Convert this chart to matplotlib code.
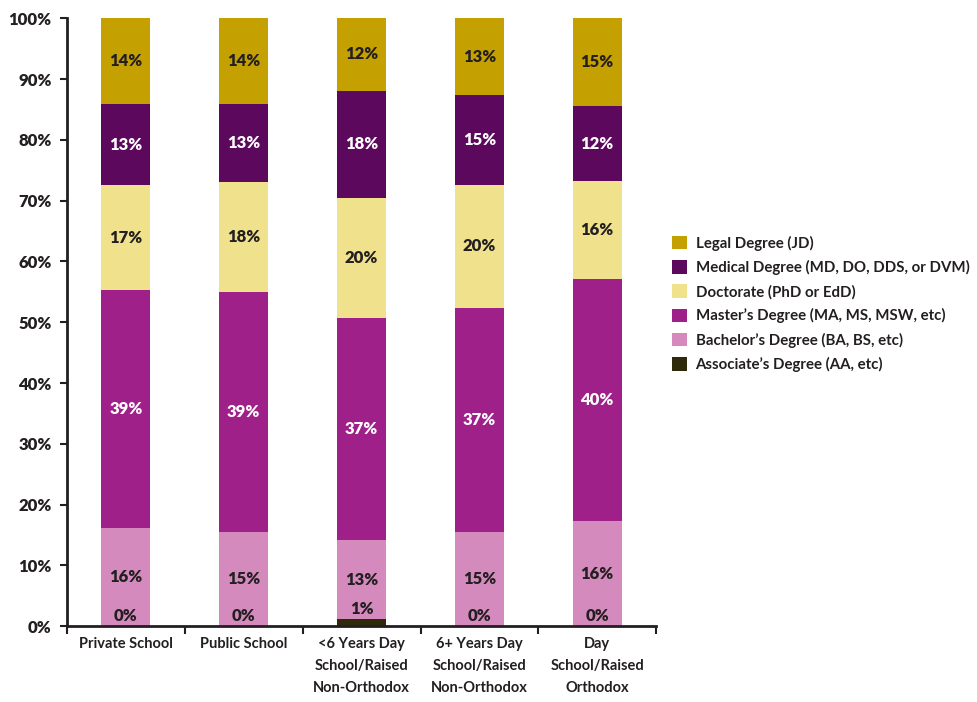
import matplotlib
matplotlib.use("Agg")
import matplotlib.pyplot as plt
from matplotlib.patches import Patch
import numpy as np

plt.rcParams['font.family'] = ['Lato', 'DejaVu Sans']

categories = ["Private School", "Public School",
              "<6 Years Day\nSchool/Raised\nNon-Orthodox",
              "6+ Years Day\nSchool/Raised\nNon-Orthodox",
              "Day\nSchool/Raised\nOrthodox"]

series_names = ["Associate\u2019s Degree (AA, etc)",
                "Bachelor\u2019s Degree (BA, BS, etc)",
                "Master\u2019s Degree (MA, MS, MSW, etc)",
                "Doctorate (PhD or EdD)",
                "Medical Degree (MD, DO, DDS, or DVM)",
                "Legal Degree (JD)"]

associate = [0.0, 0.0, 1.1, 0.0, 0.0]
bachelor = [16.2, 15.5, 13.0, 15.5, 17.3]
master = [39.1, 39.4, 36.6, 36.9, 39.8]
doctorate = [17.2, 18.1, 19.8, 20.2, 16.1]
medical = [13.4, 12.9, 17.6, 14.8, 12.3]
legal = [14.1, 14.1, 11.9, 12.6, 14.5]

label_associate = ["0%", "0%", "1%", "0%", "0%"]
label_bachelor = ["16%", "15%", "13%", "15%", "16%"]
label_master = ["39%", "39%", "37%", "37%", "40%"]
label_doctorate = ["17%", "18%", "20%", "20%", "16%"]
label_medical = ["13%", "13%", "18%", "15%", "12%"]
label_legal = ["14%", "14%", "12%", "13%", "15%"]

yticks = [0, 10, 20, 30, 40, 50, 60, 70, 80, 90, 100]

colors = ["#2E2A0A", "#D48ABC", "#A0208A", "#F0E28C", "#5C085C", "#C4A000"]
text_colors = ["#231F20", "#231F20", "white", "#231F20", "white", "#231F20"]

series = [associate, bachelor, master, doctorate, medical, legal]
labels = [label_associate, label_bachelor, label_master, label_doctorate,
          label_medical, label_legal]

fig = plt.figure(figsize=(9.77, 7.02), dpi=100)
ax = fig.add_axes([0.0686, 0.108, 0.603, 0.866])

x = np.arange(len(categories))
bw = 0.416
bottom = np.zeros(len(categories))
for i, (vals, col) in enumerate(zip(series, colors)):
    vals = np.array(vals)
    ax.bar(x, vals, bw, bottom=bottom, color=col, edgecolor='none', zorder=2)
    for j in range(len(categories)):
        if i == 0:
            ax.annotate(labels[i][j], (x[j], bottom[j] + vals[j]),
                        xytext=(0, 1.5), textcoords='offset points',
                        ha='center', va='bottom', fontsize=12,
                        fontweight='heavy', color=text_colors[i], zorder=3)
        else:
            ax.text(x[j], bottom[j] + vals[j] / 2, labels[i][j],
                    ha='center', va='center', fontsize=12,
                    fontweight='heavy', color=text_colors[i], zorder=3)
    bottom = bottom + vals

ax.set_xlim(-0.5, len(categories) - 0.5)
ax.set_ylim(0, 100)
ax.set_yticks(yticks)
ax.set_yticklabels([f"{v}%" for v in yticks], fontsize=12, fontweight='heavy',
                   color='#231F20')
ax.set_xticks(x)
ax.set_xticklabels(categories, fontsize=10.5, fontweight='bold', color='#231F20',
                   linespacing=1.7)
ax.tick_params(axis='x', which='major', length=0, pad=8)
ax.set_xticks(np.arange(-0.5, len(categories)), minor=True)
ax.tick_params(axis='x', which='minor', length=6, width=1.5, color='#231F20')
ax.tick_params(axis='y', length=5, width=1.5, color='#231F20', pad=6)

for s in ['top', 'right']:
    ax.spines[s].set_visible(False)
for s in ['left', 'bottom']:
    ax.spines[s].set_linewidth(2)
    ax.spines[s].set_color('#231F20')

handles = [Patch(facecolor=c, edgecolor='none') for c in colors]
leg = fig.legend(handles[::-1], series_names[::-1], loc='upper left',
                 bbox_to_anchor=(0.682, 0.673), frameon=False,
                 prop={'size': 10.8, 'weight': 'bold'},
                 handlelength=1.0, handleheight=1.0, handletextpad=0.55,
                 labelspacing=0.62, borderaxespad=0)
for t in leg.get_texts():
    t.set_color('#231F20')

fig.savefig("out.png", dpi=100)
